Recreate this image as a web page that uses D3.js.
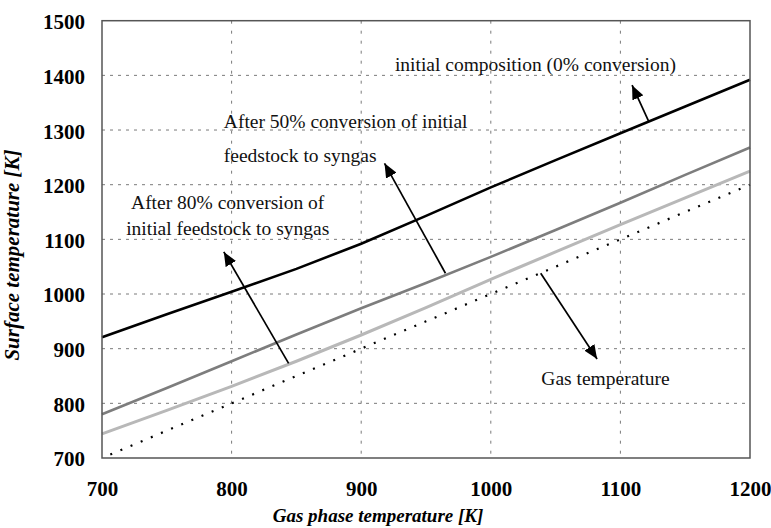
<!DOCTYPE html>
<html><head><meta charset="utf-8">
<script src="https://cdn.jsdelivr.net/npm/d3@7"></script>
<style>
html,body{margin:0;padding:0;background:#fff;}
svg{display:block;}
</style></head>
<body><svg id="chart" width="771" height="528"></svg>
<script>
const gasTemp = [700, 750, 800, 850, 900, 950, 1000, 1050, 1100, 1150, 1200];
const surf0   = [921, 963, 1004, 1046, 1092, 1143, 1195, 1245, 1294, 1343, 1392];
const surf50  = [780, 828, 877, 926, 974, 1020, 1068, 1117, 1167, 1218, 1268];
const surf80  = [744, 787, 831, 877, 925, 975, 1027, 1077, 1127, 1176, 1225];
const gasLine = [700, 750, 800, 850, 900, 950, 1000, 1050, 1100, 1150, 1200];
const xTicks = [700, 800, 900, 1000, 1100, 1200];
const yTicks = [700, 800, 900, 1000, 1100, 1200, 1300, 1400, 1500];
const labels = [
  {lines:["initial composition (0% conversion)"], x:926, y:[1408], anchor:"start"},
  {lines:["After 50% conversion of initial","feedstock to syngas"], x:794, y:[1303, 1241], anchor:"start"},
  {lines:["After 80% conversion of","initial feedstock to syngas"], x:797, y:[1155, 1108], anchor:"middle"},
  {lines:["Gas temperature"], x:1039, y:[833], anchor:"start"}
];
const arrows = [
  {from:[1122, 1315], to:[1109, 1382]},
  {from:[965, 1038], to:[918, 1239]},
  {from:[844, 873], to:[794, 1077]},
  {from:[1038.5, 1038], to:[1082, 881]}
];

const FONT = '"Liberation Serif", "Times New Roman", Times, serif';
const svg = d3.select("#chart");
const L = 102, R = 750, T = 20.7, B = 458;
const x = d3.scaleLinear().domain([700, 1200]).range([L, R]);
const y = d3.scaleLinear().domain([700, 1500]).range([B, T]);

// grid
const g = svg.append("g");
g.selectAll("line.h").data(yTicks.slice(1, -1)).join("line")
  .attr("x1", L).attr("x2", R).attr("y1", d => y(d)).attr("y2", d => y(d))
  .attr("stroke", "#7a7a7a").attr("stroke-width", 1).attr("stroke-dasharray", "3,5");
g.selectAll("line.v").data(xTicks.slice(1, -1)).join("line")
  .attr("y1", T).attr("y2", B).attr("x1", d => x(d)).attr("x2", d => x(d))
  .attr("stroke", "#7a7a7a").attr("stroke-width", 1).attr("stroke-dasharray", "3,7");

// axes (labels only)
const xAxis = d3.axisBottom(x).tickValues(xTicks).tickSize(0).tickPadding(0).tickFormat(d3.format("d"));
const yAxis = d3.axisLeft(y).tickValues(yTicks).tickSize(0).tickPadding(0).tickFormat(d3.format("d"));
const ax = svg.append("g").attr("transform", `translate(0,${B})`).call(xAxis);
ax.select(".domain").remove();
ax.selectAll("text").attr("y", 38).attr("dy", 0).attr("fill", "#000")
  .style("font-family", FONT).style("font-size", "21px").style("font-weight", "bold");
const ay = svg.append("g").attr("transform", `translate(${L},0)`).call(yAxis);
ay.select(".domain").remove();
ay.selectAll("text").attr("x", -17).attr("dy", "0.38em").attr("fill", "#000")
  .style("font-family", FONT).style("font-size", "21px").style("font-weight", "bold");

// series
const line = d3.line().x((d, i) => x(gasTemp[i])).y(d => y(d));
svg.append("path").datum(gasLine).attr("d", line).attr("fill", "none")
  .attr("stroke", "#000").attr("stroke-width", 2.2).attr("stroke-dasharray", "2,9").attr("stroke-dashoffset", -9);
svg.append("path").datum(surf80).attr("d", line).attr("fill", "none")
  .attr("stroke", "#b8b8b8").attr("stroke-width", 3);
svg.append("path").datum(surf50).attr("d", line).attr("fill", "none")
  .attr("stroke", "#7d7d7d").attr("stroke-width", 2.6);
svg.append("path").datum(surf0).attr("d", line).attr("fill", "none")
  .attr("stroke", "#000").attr("stroke-width", 2.6);

// frame
svg.append("rect").attr("x", L).attr("y", T).attr("width", R - L).attr("height", B - T)
  .attr("fill", "none").attr("stroke", "#555").attr("stroke-width", 1.5);

// arrows
svg.append("defs").append("marker").attr("id", "ah")
  .attr("viewBox", "0 0 14 12").attr("refX", 14).attr("refY", 6)
  .attr("markerUnits", "userSpaceOnUse").attr("markerWidth", 14).attr("markerHeight", 12)
  .attr("orient", "auto").append("path").attr("d", "M0,0 L14,6 L0,12 Z").attr("fill", "#000");
svg.selectAll("line.arrow").data(arrows).join("line").attr("class", "arrow")
  .attr("x1", d => x(d.from[0])).attr("y1", d => y(d.from[1]))
  .attr("x2", d => x(d.to[0])).attr("y2", d => y(d.to[1]))
  .attr("stroke", "#000").attr("stroke-width", 1.7).attr("marker-end", "url(#ah)");

// annotation labels
labels.forEach(lb => {
  lb.lines.forEach((t, i) => {
    svg.append("text").attr("x", x(lb.x)).attr("y", y(lb.y[i]))
      .attr("text-anchor", lb.anchor).attr("fill", "#111")
      .style("font-family", FONT).style("font-size", "19.5px").text(t);
  });
});

// axis titles
svg.append("text").attr("x", 378).attr("y", 522).attr("text-anchor", "middle")
  .style("font-family", FONT).style("font-size", "19px").style("font-weight", "bold").style("font-style", "italic")
  .text("Gas phase temperature [K]");
svg.append("text").attr("transform", "translate(19,255) rotate(-90)").attr("text-anchor", "middle")
  .style("font-family", FONT).style("font-size", "21px").style("font-weight", "bold").style("font-style", "italic")
  .text("Surface temperature [K]");
</script></body></html>
